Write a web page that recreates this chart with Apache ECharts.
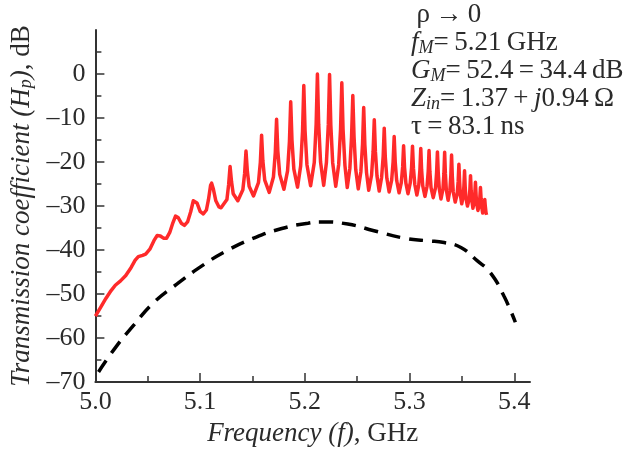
<!DOCTYPE html>
<html><head><meta charset="utf-8">
<script src="https://cdn.jsdelivr.net/npm/echarts@6/dist/echarts.min.js"></script>
<style>html,body{margin:0;padding:0;background:#fff}#c{width:624px;height:452px}</style>
</head><body><div id="c"></div>
<script>
// ---- tick labels ----
const xTickValues = [5.0, 5.1, 5.2, 5.3, 5.4];
const xMinorTicks = [5.05, 5.15, 5.25, 5.35];
const yTickValues = [-70, -60, -50, -40, -30, -20, -10, 0];
const yMinorTicks = [-65, -55, -45, -35, -25, -15, -5, 5];

// ---- red: transmission coefficient with resonances [GHz, dB] ----
const redTrace = [
  [5.000,-55.0],[5.005,-53.0],[5.010,-51.0],[5.015,-49.2],[5.019,-48.0],[5.024,-47.0],[5.029,-45.8],
  [5.034,-44.0],[5.038,-42.3],[5.041,-41.5],[5.045,-41.2],[5.048,-40.9],[5.052,-39.8],[5.056,-37.8],
  [5.059,-36.7],[5.062,-36.8],[5.065,-37.3],[5.068,-37.3],[5.071,-36.0],[5.074,-33.8],[5.0765,-32.3],
  [5.079,-32.6],[5.082,-33.9],[5.085,-34.4],[5.088,-33.6],[5.091,-31.3],[5.0935,-28.8],[5.095,-28.4],
  [5.097,-29.3],[5.100,-31.2],[5.103,-31.8],[5.106,-30.9],[5.108,-28.5],[5.110,-25.3],[5.111,-24.8],
  [5.1125,-26.0],[5.115,-28.8],[5.118,-30.2],[5.120,-30.4],
  [5.1256,-28.5],[5.1272,-25.2],[5.1286,-21.0],[5.1300,-24.5],[5.1316,-27.2],[5.136,-28.8],
  [5.1408,-26.3],[5.1425,-22.6],[5.1438,-17.5],[5.1451,-22.1],[5.1468,-25.5],[5.151,-27.7],
  [5.1557,-24.7],[5.1575,-20.1],[5.1587,-13.9],[5.1599,-19.7],[5.1617,-24.1],[5.166,-26.9],
  [5.1700,-23.4],[5.1718,-17.8],[5.1730,-10.3],[5.1742,-17.5],[5.1760,-22.8],[5.180,-26.2],
  [5.1835,-22.0],[5.1853,-15.3],[5.1865,-6.3],[5.1877,-15.0],[5.1895,-21.6],[5.193,-25.7],
  [5.1960,-20.9],[5.1978,-13.0],[5.1990,-2.6],[5.2002,-12.9],[5.2020,-20.6],[5.2055,-25.4],
  [5.2090,-20.1],[5.2108,-11.4],[5.2120,0.0],[5.2132,-11.4],[5.2150,-20.0],[5.2180,-25.3],
  [5.2206,-20.1],[5.2224,-11.5],[5.2236,-0.1],[5.2248,-11.6],[5.2266,-20.2],[5.2295,-25.5],
  [5.2323,-20.6],[5.2341,-12.6],[5.2353,-2.0],[5.2365,-12.7],[5.2383,-20.8],[5.2405,-25.8],
  [5.2430,-21.4],[5.2446,-14.3],[5.2458,-4.9],[5.2470,-14.4],[5.2486,-21.7],[5.2510,-26.1],
  [5.2535,-22.2],[5.2551,-15.9],[5.2562,-7.6],[5.2573,-16.1],[5.2589,-22.4],[5.2610,-26.4],
  [5.2637,-23.0],[5.2652,-17.6],[5.2663,-10.4],[5.2674,-17.7],[5.2689,-23.2],[5.2710,-26.6],
  [5.2733,-23.5],[5.2748,-18.7],[5.2758,-12.3],[5.2768,-18.8],[5.2783,-23.7],[5.2805,-26.8],
  [5.2829,-24.1],[5.2843,-19.9],[5.2853,-14.2],[5.2863,-20.0],[5.2877,-24.2],[5.2900,-27.0],
  [5.2921,-24.7],[5.2934,-21.1],[5.2943,-16.3],[5.2952,-21.2],[5.2965,-24.8],[5.2985,-27.2],
  [5.3006,-24.8],[5.3019,-21.3],[5.3028,-16.4],[5.3037,-21.4],[5.3050,-25.1],[5.3070,-27.5],
  [5.3088,-25.2],[5.3099,-21.7],[5.3107,-16.9],[5.3115,-21.8],[5.3126,-25.4],[5.3147,-27.8],
  [5.3167,-25.5],[5.3178,-22.1],[5.3186,-17.4],[5.3194,-22.2],[5.3205,-25.8],[5.3226,-28.1],
  [5.3248,-25.8],[5.3258,-22.4],[5.3266,-17.7],[5.3274,-22.5],[5.3284,-26.1],[5.3300,-28.4],
  [5.3319,-26.1],[5.3328,-22.6],[5.3335,-17.8],[5.3342,-22.7],[5.3351,-26.3],[5.3368,-28.7],
  [5.3385,-26.4],[5.3394,-23.0],[5.3401,-18.4],[5.3408,-23.2],[5.3417,-26.8],[5.3436,-29.1],
  [5.3455,-27.2],[5.3464,-24.4],[5.3471,-20.5],[5.3478,-24.5],[5.3485,-27.5],[5.3498,-29.5],
  [5.3512,-27.8],[5.3519,-25.4],[5.3525,-22.0],[5.3531,-25.6],[5.3538,-28.2],[5.3553,-30.0],
  [5.3569,-28.4],[5.3576,-26.2],[5.3582,-23.1],[5.3588,-26.4],[5.3595,-28.8],[5.3605,-30.5],
  [5.3617,-29.1],[5.3623,-27.3],[5.3629,-24.6],[5.3635,-27.5],[5.3641,-29.5],[5.3653,-31.0],
  [5.3665,-29.8],[5.3671,-28.1],[5.3677,-25.8],[5.3683,-28.4],[5.3689,-30.2],[5.3698,-31.6],
  [5.3708,-30.6],[5.3713,-29.8],[5.3718,-28.5],[5.3723,-30.0],[5.3730,-31.5],[5.3735,-32.0]
];

// ---- black dashed: envelope [GHz, dB] ----
const blackFreq = [5.003,5.0193,5.0368,5.0558,5.078,5.1017,5.125,5.151,5.178,5.203,5.216,5.241,5.266,5.295,5.317,5.333,5.349,5.3645,5.377,5.390,5.401];
const blackDb   = [-67.7,-62.1,-57.0,-51.9,-47.7,-43.6,-40.2,-37.3,-35.1,-33.9,-33.6,-34.1,-35.6,-37.3,-37.9,-38.3,-39.4,-42.4,-45.1,-50.4,-56.4];

const FONT = "'Liberation Serif','Times New Roman',serif";
const TXT = '#2b2b2b';
const AX = '#333';

const chart = echarts.init(document.getElementById('c'), null, {renderer:'canvas'});
const base = {fontFamily: FONT, fontSize: 27, color: TXT, fontWeight: 'normal'};
const rich = {
  a: Object.assign({}, base, {lineHeight: 28}),
  i: Object.assign({}, base, {fontStyle: 'italic', lineHeight: 28}),
  n: Object.assign({}, base, {lineHeight: 28}),
  s: {fontFamily: FONT, fontSize: 18, fontStyle: 'italic', fontWeight: 'normal', color: TXT, lineHeight: 14, verticalAlign: 'bottom'}
};
const T = '\u2009';
const annot = [
  '{a|' + T + 'ρ' + T + '→' + T + '0}',
  '{i|f}{s|M}{a|=' + T + '5.21' + T + 'GHz}',
  '{i|G}{s|M}{a|=' + T + '52.4' + T + '=' + T + '34.4' + T + 'dB}',
  '{i|Z}{s|in}{a|=' + T + '1.37' + T + '+' + T + '}{i|j}{a|0.94' + T + 'Ω}',
  '{a|τ' + T + '=' + T + '83.1' + T + 'ns}'
].join('\n');

const option = {
  animation: false,
  backgroundColor: '#fff',
  title: {
    left: 411, top: 1, padding: 0,
    text: annot,
    textStyle: {rich: rich, lineHeight: 28, fontWeight: 'normal'}
  },
  grid: {left: 93, right: 94, top: 30, bottom: 69},
  xAxis: [{
    type: 'value', min: 5.0, max: 5.415, interval: 0.1,
    axisLine: {onZero: false, lineStyle: {color: AX, width: 2}},
    axisTick: {customValues: xTickValues, inside: true, length: 9, lineStyle: {color: AX, width: 1.5}},
    axisLabel: {customValues: xTickValues, formatter: v => v.toFixed(1), fontFamily: FONT, fontSize: 26, color: TXT, margin: 7},
    splitLine: {show: false},
    name: '{i|Frequency (f)}{n|, GHz}',
    nameLocation: 'middle', nameGap: 36,
    nameTextStyle: {rich: rich}
  }, {
    type: 'value', min: 5.0, max: 5.415, position: 'bottom',
    axisLine: {show: false, onZero: false},
    axisTick: {customValues: xMinorTicks, inside: true, length: 6, lineStyle: {color: AX, width: 1.5}},
    axisLabel: {show: false}, splitLine: {show: false}
  }],
  yAxis: [{
    type: 'value', min: -70, max: 10, interval: 10,
    axisLine: {show: true, onZero: false, lineStyle: {color: AX, width: 2}},
    axisTick: {show: true, customValues: yTickValues, inside: true, length: 9, lineStyle: {color: AX, width: 1.5}},
    axisLabel: {customValues: yTickValues, formatter: v => v < 0 ? '\u2013' + Math.abs(v) : String(v), fontFamily: FONT, fontSize: 26, color: TXT, margin: 10},
    splitLine: {show: false},
    name: '{i|Transmission coefficient (H}{s|p}{i|)}{n|, dB}',
    nameLocation: 'middle', nameGap: 51, nameRotate: 90,
    nameTextStyle: {rich: rich}
  }, {
    type: 'value', min: -70, max: 10, position: 'left',
    axisLine: {show: false, onZero: false},
    axisTick: {show: true, customValues: yMinorTicks, inside: true, length: 6, lineStyle: {color: AX, width: 1.5}},
    axisLabel: {show: false}, splitLine: {show: false}
  }],
  series: [{
    type: 'line', xAxisIndex: 0, yAxisIndex: 0,
    data: redTrace, showSymbol: false, symbol: 'none',
    lineStyle: {color: '#ff2a2a', width: 3.5, join: 'round'}
  }, {
    type: 'line', xAxisIndex: 0, yAxisIndex: 0,
    data: blackFreq.map((f, k) => [f, blackDb[k]]), showSymbol: false, symbol: 'none', smooth: 0.5,
    lineStyle: {color: '#000', width: 3.5, type: [14, 9], cap: 'butt'}
  }]
};
chart.setOption(option);
</script></body></html>
